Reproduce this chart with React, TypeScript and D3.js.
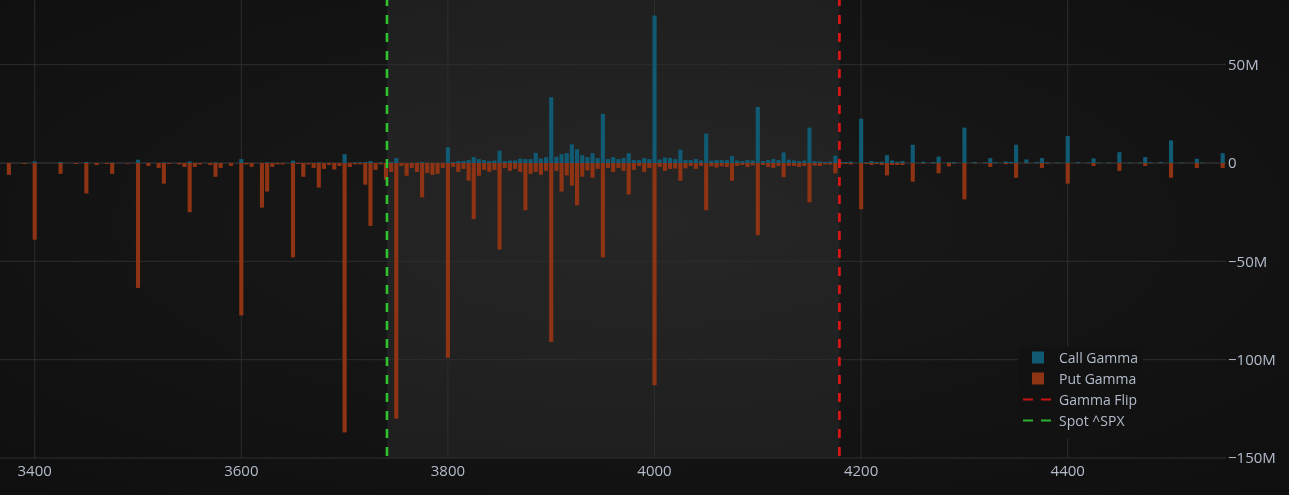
import React from "react";
import * as d3 from "d3";

const strikes = [
  3375, 3390, 3400, 3425, 3440, 3450, 3460, 3470, 3475, 3490,
  3500, 3510, 3520, 3525, 3530, 3540, 3545, 3550, 3555, 3560,
  3570, 3575, 3580, 3590, 3600, 3605, 3610, 3620, 3625, 3630,
  3635, 3640, 3650, 3655, 3660, 3665, 3670, 3675, 3680, 3685,
  3690, 3695, 3700, 3705, 3710, 3715, 3720, 3725, 3730, 3735,
  3740, 3745, 3750, 3755, 3760, 3765, 3770, 3775, 3780, 3785,
  3790, 3795, 3800, 3805, 3810, 3815, 3820, 3825, 3830, 3835,
  3840, 3845, 3850, 3855, 3860, 3865, 3870, 3875, 3880, 3885,
  3890, 3895, 3900, 3905, 3910, 3915, 3920, 3925, 3930, 3935,
  3940, 3945, 3950, 3955, 3960, 3965, 3970, 3975, 3980, 3985,
  3990, 3995, 4000, 4005, 4010, 4015, 4020, 4025, 4030, 4035,
  4040, 4045, 4050, 4055, 4060, 4065, 4070, 4075, 4080, 4085,
  4090, 4095, 4100, 4105, 4110, 4115, 4120, 4125, 4130, 4135,
  4140, 4145, 4150, 4155, 4160, 4165, 4170, 4175, 4180, 4185,
  4190, 4200, 4205, 4210, 4215, 4220, 4225, 4230, 4235, 4240,
  4250, 4260, 4270, 4275, 4285, 4290, 4300, 4310, 4320, 4325,
  4330, 4340, 4345, 4350, 4360, 4370, 4375, 4380, 4390, 4400,
  4410, 4420, 4425, 4430, 4440, 4450, 4460, 4470, 4475, 4480,
  4490, 4500, 4510, 4525, 4530, 4550,
];

// Call gamma per strike, in millions
const callGamma = [
  0, 0, 0.8, 0.5, 0, 0.5, 0, 0, 0.2, 0,
  1.7, 0, 0, 0.3, 0, 0, 0, 0.8, 0, 0,
  0, 0.3, 0, 0, 2, 0, 0, 0, 0.3, 0,
  0, 0, 1.2, 0, 0, 0, 0, 0.3, 0, 0,
  0, 0, 4.5, 0, 0.3, 0.3, 0.5, 1, 0, 0.3,
  0, 0.5, 2.5, 0, 0, 0, 0, 0.5, 0, 0,
  0, 0, 8, 0.5, 1, 1, 1.5, 3, 2, 1.5,
  1, 1.3, 6.3, 1, 1.3, 1.3, 2.2, 2, 2, 5.2,
  2.3, 3, 33.5, 3.2, 4.5, 5, 9.5, 7, 4, 3,
  5, 2.5, 25, 2, 3, 2, 2.5, 5, 1.5, 1.5,
  2.5, 2, 75, 1.8, 2.8, 2.6, 2, 6.8, 1.5, 1.5,
  2, 1.3, 15, 1.2, 1.5, 1.5, 1.5, 3.5, 1.3, 1,
  1.5, 1.3, 28.5, 1, 1.5, 2, 1.5, 5.4, 1.7, 1.3,
  1, 1.3, 18, 1, 0.8, 0.5, 0.7, 3.7, 0.7, 0.5,
  0.7, 22.5, 0.3, 1, 0.5, 0.7, 4, 1.3, 0.7, 1,
  9.3, 0.7, 0.5, 3.3, 0.5, 0.5, 18, 0.5, 0.3, 2.5,
  0.4, 0.8, 0.6, 9.3, 1.8, 0.5, 2.5, 0.3, 0.3, 13.7,
  0.5, 0.3, 2.4, 0.3, 0.3, 5.5, 0.3, 0.3, 3, 0.3,
  0.5, 11.5, 0.3, 2.2, 0.3, 5,
];

// Put gamma per strike, in millions
const putGamma = [
  -6, -0.5, -39, -5.5, -0.5, -15.5, -1, -0.5, -5.5, -0.3,
  -63.5, -1.5, -2.5, -10.5, -0.5, -0.7, -2, -25, -2, -0.7,
  -1, -7, -2.5, -1.5, -77.5, -0.7, -2, -22.7, -14.5, -2,
  -0.7, -0.7, -48, -0.5, -7, -0.7, -2.5, -12.5, -3, -1,
  -3.3, -1.5, -137, -2, -0.7, -0.7, -11, -32, -3.5, -0.7,
  -8.5, -4.5, -130, -1.5, -6.5, -2.5, -4.5, -17.5, -5, -6,
  -5.5, -2.5, -99, -2, -4.5, -3, -9, -28.5, -6.5, -3.5,
  -4.5, -3.5, -44, -2.5, -4, -3, -4.5, -24, -5.5, -4.5,
  -6, -4, -91, -4, -14.5, -6.3, -11.5, -21.5, -7, -3.8,
  -7.5, -3, -48, -2.5, -4.5, -2.5, -4, -16, -3.5, -1.5,
  -4.5, -2.5, -113, -2, -4, -3, -2.8, -9, -2.7, -1.5,
  -3, -1.5, -24, -1.7, -2.3, -1.7, -2, -9, -1.5, -1,
  -2, -1.2, -36.7, -1, -2, -2.5, -1.5, -7.2, -1.5, -1.5,
  -2, -1.5, -20, -1.3, -1.5, -0.7, -0.8, -5.2, -0.7, -0.5,
  -0.7, -23.5, -0.5, -1, -0.5, -1, -6.3, -1, -1, -1,
  -9.5, -0.3, -0.2, -5.2, -1.7, -0.2, -18.5, -0.2, -0.2, -2,
  -0.1, -0.6, -0.2, -7.5, -0.2, -0.1, -2.5, -0.3, -0.1, -10.5,
  -0.1, -0.1, -1.5, -0.1, -0.1, -4, -0.1, -0.1, -1.5, -0.1,
  -0.1, -7.5, -0.1, -2.5, -0.1, -2.5,
];

const xTicks = [3400, 3600, 3800, 4000, 4200, 4400];
const yTicks = [50, 0, -50, -100, -150];
const spotPrice = 3741;
const gammaFlip = 4179;
const legendItems = ["Call Gamma", "Put Gamma", "Gamma Flip", "Spot ^SPX"];

const W = 1289;
const H = 495;
const plotLeft = 0;
const plotRight = 1226;
const plotTop = 0;
const plotBottom = 458;

const CALL = "#115a73";
const PUT = "#8e3313";
const RED = "#e01515";
const GREEN = "#2fc42f";
const TEXT = "#b3bccb";
const GRID = "#2e2e2e";
const FONT = "'Open Sans', 'Noto Sans', sans-serif";

function fmtY(v: number) {
  if (v === 0) return "0";
  return (v < 0 ? "\u2212" : "") + Math.abs(v) + "M";
}

export default function App() {
  const x = d3.scaleLinear().domain([3366.4, 4553.2]).range([plotLeft, plotRight]);
  const y = d3.scaleLinear().domain([-150, 82.9]).range([plotBottom, plotTop]);
  const half = 2;
  const y0 = y(0);

  return (
    <svg
      width={W}
      height={H}
      style={{ position: "fixed", left: 0, top: 0, display: "block" }}
      xmlns="http://www.w3.org/2000/svg"
    >
      <defs>
        <radialGradient id="vig" cx="50%" cy="45%" r="75%">
          <stop offset="0%" stopColor="#1a1a1a" />
          <stop offset="100%" stopColor="#0f0f0f" />
        </radialGradient>
        <clipPath id="plotclip">
          <rect x={plotLeft} y={plotTop} width={plotRight - plotLeft} height={plotBottom - plotTop} />
        </clipPath>
      </defs>
      <rect x={0} y={0} width={W} height={H} fill="url(#vig)" />
      {/* shaded region between spot and gamma flip */}
      <rect
        x={x(spotPrice)}
        y={plotTop}
        width={x(gammaFlip) - x(spotPrice)}
        height={plotBottom - plotTop}
        fill="#ffffff"
        fillOpacity={0.055}
      />
      {/* grid */}
      {xTicks.map((t) => (
        <line key={"gx" + t} x1={x(t)} x2={x(t)} y1={plotTop} y2={plotBottom} stroke={GRID} strokeWidth={1} />
      ))}
      {yTicks.map((t) => (
        <line
          key={"gy" + t}
          x1={plotLeft}
          x2={plotRight}
          y1={y(t)}
          y2={y(t)}
          stroke={t === 0 ? "#3d3d3d" : GRID}
          strokeWidth={1}
        />
      ))}
      <g clipPath="url(#plotclip)">
        {strikes.map((k, i) => {
          const xl = x(k - half);
          const w = x(k + half) - xl;
          const c = callGamma[i];
          const p = putGamma[i];
          return (
            <g key={"b" + k}>
              {c > 0 && <rect x={xl} y={y(c)} width={w} height={y0 - y(c)} fill={CALL} />}
              {p < 0 && <rect x={xl} y={y0} width={w} height={y(p) - y0} fill={PUT} />}
            </g>
          );
        })}
        <line
          x1={x(gammaFlip)}
          x2={x(gammaFlip)}
          y1={plotTop}
          y2={plotBottom}
          stroke={RED}
          strokeWidth={2.6}
          strokeDasharray="9,9"
          strokeDashoffset={3}
        />
        <line
          x1={x(spotPrice)}
          x2={x(spotPrice)}
          y1={plotTop}
          y2={plotBottom}
          stroke={GREEN}
          strokeWidth={2.6}
          strokeDasharray="9,9"
          strokeDashoffset={3}
        />
      </g>
      {/* x tick labels */}
      {xTicks.map((t) => (
        <text
          key={"tx" + t}
          x={x(t)}
          y={476}
          textAnchor="middle"
          fontFamily={FONT}
          fontSize={15}
          fill={TEXT}
        >
          {t}
        </text>
      ))}
      {/* y tick labels on the right */}
      {yTicks.map((t) => (
        <text
          key={"ty" + t}
          x={1228}
          y={y(t)}
          dy="0.36em"
          textAnchor="start"
          fontFamily={FONT}
          fontSize={15}
          fill={TEXT}
        >
          {fmtY(t)}
        </text>
      ))}
      {/* legend */}
      <g>
        <rect x={1018} y={347} width={125} height={91} fill="#121212" />
        {legendItems.map((name, i) => {
          const cy = 357.5 + i * 21;
          let sym;
          if (i === 0 || i === 1) {
            sym = (
              <rect
                x={1032}
                y={cy - 6}
                width={12}
                height={12}
                fill={i === 0 ? CALL : PUT}
              />
            );
          } else {
            sym = (
              <line
                x1={1023}
                x2={1051}
                y1={cy}
                y2={cy}
                stroke={i === 2 ? "#c81414" : "#2fae2f"}
                strokeWidth={2}
                strokeDasharray="10,8"
              />
            );
          }
          return (
            <g key={name}>
              {sym}
              <text x={1059} y={cy} dy="0.36em" fontFamily={FONT} fontSize={14} fill={TEXT}>
                {name}
              </text>
            </g>
          );
        })}
      </g>
    </svg>
  );
}
